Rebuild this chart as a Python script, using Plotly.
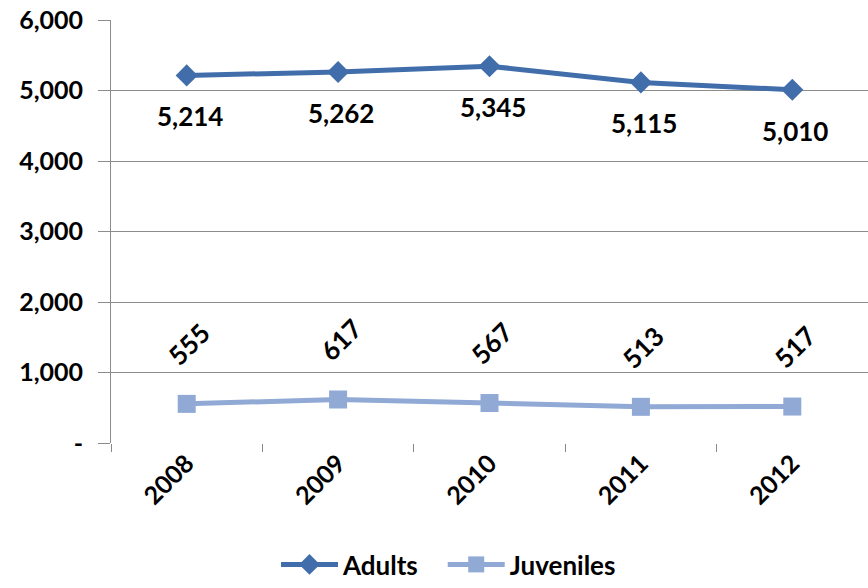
import plotly.graph_objects as go

years = ["2008", "2009", "2010", "2011", "2012"]
adults = [5214, 5262, 5345, 5115, 5010]
juveniles = [555, 617, 567, 513, 517]
y_ticks = [0, 1000, 2000, 3000, 4000, 5000, 6000]
y_tick_text = ["-", "1,000", "2,000", "3,000", "4,000", "5,000", "6,000"]

adult_color = "#416EAB"
juv_color = "#91A9D5"
font_family = "Lato, 'Open Sans', sans-serif"

fig = go.Figure()
fig.add_trace(go.Scatter(
    x=years, y=adults, name="Adults\u00a0\u00a0\u00a0", mode="lines+markers",
    line=dict(color=adult_color, width=5),
    marker=dict(symbol="diamond", size=17, color=adult_color),
))
fig.add_trace(go.Scatter(
    x=years, y=juveniles, name="Juveniles", mode="lines+markers",
    line=dict(color=juv_color, width=5),
    marker=dict(symbol="square", size=18, color=juv_color),
))

for i, v in enumerate(adults):
    fig.add_annotation(x=i, y=v, text=f"<b>{v:,}</b>", showarrow=False, yshift=-41, xshift=3,
                       font=dict(size=26, color="black", family=font_family))
for i, v in enumerate(juveniles):
    fig.add_annotation(x=i, y=v, text=f"<b>{v:,}</b>", showarrow=False, yshift=60, xshift=2,
                       textangle=-45,
                       font=dict(size=26, color="black", family=font_family))

fig.update_layout(
    width=868, height=588,
    margin=dict(l=111, r=0, t=20, b=145, autoexpand=False),
    paper_bgcolor="white", plot_bgcolor="white",
    font=dict(family=font_family, size=24, color="black", weight="bold"),
    showlegend=True,
    legend=dict(orientation="h", x=(276 - 111) / 757, xanchor="left", yref="container", y=0.0, yanchor="bottom",
                font=dict(size=26, color="black", family=font_family, weight="bold"),
                tracegroupgap=0, itemwidth=57),
    xaxis=dict(
        type="category", range=[-0.5, 4.5], automargin=False,
        showgrid=False, showline=False, zeroline=False,
        ticks="outside", tickson="boundaries", ticklen=8, tickcolor="#888888",
        tickangle=-45, tickfont=dict(size=25, family=font_family, color="black", weight="bold"),
    ),
    yaxis=dict(
        range=[0, 6000], tickvals=y_ticks, ticktext=y_tick_text, automargin=False,
        showgrid=True, gridcolor="#8C8C8C", gridwidth=1,
        showline=True, linecolor="#8C8C8C", linewidth=1,
        zeroline=False, ticks="outside", ticklen=12, tickcolor="#8C8C8C",
        ticklabeloverflow="allow", ticklabelstandoff=10,
        tickfont=dict(size=25, family=font_family, color="black", weight="bold"),
    ),
)
fig.write_html("out.html", config={"displayModeBar": False},
               post_script="document.body.style.margin='0';")
